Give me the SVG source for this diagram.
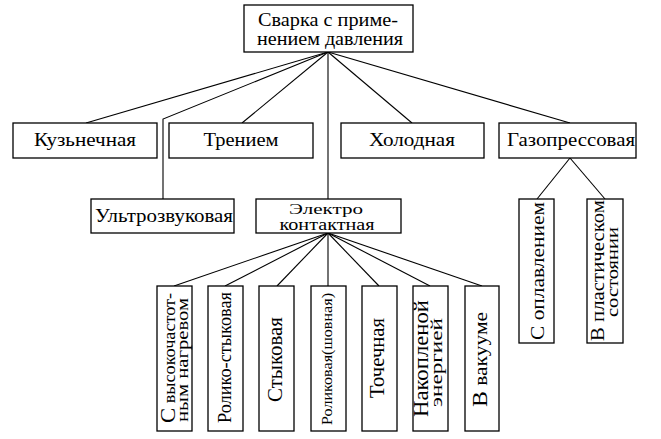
<svg xmlns="http://www.w3.org/2000/svg" width="661" height="439" viewBox="0 0 661 439" font-family="'Liberation Serif', 'DejaVu Serif', 'Times New Roman', serif">
<style>
rect{fill:#fff;stroke:#000;stroke-width:1.3}
#connectors line,#connectors polyline{stroke:#000;stroke-width:1.1;fill:none}
text{fill:#000}
.h{text-anchor:middle}
</style>
<rect x="0" y="0" width="661" height="439" style="fill:#fff;stroke:none"/>
<g id="connectors">
<line x1="328" y1="52" x2="86" y2="123"/>
<polyline points="328,52 163,119 163,199"/>
<line x1="328" y1="52" x2="242" y2="123"/>
<line x1="328" y1="52" x2="328" y2="199"/>
<line x1="328" y1="52" x2="412" y2="123"/>
<line x1="328" y1="52" x2="570" y2="123"/>
<line x1="570" y1="158" x2="537" y2="199"/>
<line x1="570" y1="158" x2="605" y2="199"/>
<line x1="328" y1="233" x2="174" y2="286"/>
<line x1="328" y1="233" x2="225" y2="286"/>
<line x1="328" y1="233" x2="277" y2="286"/>
<line x1="328" y1="233" x2="328" y2="286"/>
<line x1="328" y1="233" x2="379" y2="286"/>
<line x1="328" y1="233" x2="430" y2="286"/>
<line x1="328" y1="233" x2="482" y2="286"/>
</g>
<g id="root">
<rect x="244" y="5" width="169" height="47"/>
<text class="h" x="328" y="26" font-size="19" textLength="140" lengthAdjust="spacingAndGlyphs">Сварка с приме-</text>
<text class="h" x="330" y="45" font-size="19" textLength="146" lengthAdjust="spacingAndGlyphs">нением давления</text>
</g>
<g id="n-kuz">
<rect x="13" y="123" width="144" height="35"/>
<text class="h" x="85" y="146" font-size="19" textLength="102" lengthAdjust="spacingAndGlyphs">Кузьнечная</text>
</g>
<g id="n-tren">
<rect x="169" y="123" width="144" height="35"/>
<text class="h" x="241" y="146" font-size="19" textLength="75" lengthAdjust="spacingAndGlyphs">Трением</text>
</g>
<g id="n-hol">
<rect x="341" y="123" width="143" height="35"/>
<text class="h" x="412" y="146" font-size="19" textLength="86" lengthAdjust="spacingAndGlyphs">Холодная</text>
</g>
<g id="n-gaz">
<rect x="499" y="123" width="137" height="35"/>
<text class="h" x="571" y="146" font-size="19" textLength="128" lengthAdjust="spacingAndGlyphs">Газопрессовая</text>
</g>
<g id="n-ultra">
<rect x="91" y="199" width="143" height="34"/>
<text class="h" x="164" y="222" font-size="19" textLength="138" lengthAdjust="spacingAndGlyphs">Ультрозвуковая</text>
</g>
<g id="n-electro">
<rect x="256" y="199" width="145" height="34"/>
<text class="h" x="326" y="214" font-size="15" textLength="74" lengthAdjust="spacingAndGlyphs">Электро</text>
<text class="h" x="327" y="230" font-size="16" textLength="95" lengthAdjust="spacingAndGlyphs">контактная</text>
</g>
<g id="n-hf">
<rect x="157" y="286" width="35" height="145"/>
<text transform="translate(175,423) rotate(-90)" font-size="16" textLength="130" lengthAdjust="spacingAndGlyphs"><tspan font-size="20">С</tspan> высокочастот-</text>
<text transform="translate(188,422) rotate(-90)" font-size="16" textLength="124" lengthAdjust="spacingAndGlyphs">ным нагревом</text>
</g>
<g id="n-rs">
<rect x="208" y="286" width="35" height="145"/>
<text transform="translate(231,423) rotate(-90)" font-size="18" textLength="131" lengthAdjust="spacingAndGlyphs">Ролико-стыковая</text>
</g>
<g id="n-st">
<rect x="259" y="286" width="35" height="145"/>
<text transform="translate(282,402) rotate(-90)" font-size="20" textLength="85" lengthAdjust="spacingAndGlyphs">Стыковая</text>
</g>
<g id="n-rsh">
<rect x="311" y="286" width="35" height="145"/>
<text transform="translate(332,425) rotate(-90)" font-size="14" textLength="132" lengthAdjust="spacingAndGlyphs">Роликовая(шовная)</text>
</g>
<g id="n-toch">
<rect x="362" y="286" width="35" height="145"/>
<text transform="translate(384,398) rotate(-90)" font-size="20" textLength="80" lengthAdjust="spacingAndGlyphs">Точечная</text>
</g>
<g id="n-nak">
<rect x="413" y="286" width="35" height="145"/>
<text transform="translate(428,417) rotate(-90)" font-size="20" textLength="117" lengthAdjust="spacingAndGlyphs">Накопленой</text>
<text transform="translate(442,407) rotate(-90)" font-size="17" textLength="89" lengthAdjust="spacingAndGlyphs">энергией</text>
</g>
<g id="n-vak">
<rect x="465" y="286" width="34" height="145"/>
<text transform="translate(487,407) rotate(-90)" font-size="19" textLength="95" lengthAdjust="spacingAndGlyphs"><tspan font-size="21">В</tspan>  вакууме</text>
</g>
<g id="n-opl">
<rect x="519" y="199" width="35" height="144"/>
<text transform="translate(544,340) rotate(-90)" font-size="19" textLength="138" lengthAdjust="spacingAndGlyphs">С  оплавлением</text>
</g>
<g id="n-plast">
<rect x="587" y="199" width="36" height="144"/>
<text transform="translate(604,341) rotate(-90)" font-size="19" textLength="141" lengthAdjust="spacingAndGlyphs">В пластическом</text>
<text transform="translate(618,317) rotate(-90)" font-size="17" textLength="90" lengthAdjust="spacingAndGlyphs">состоянии</text>
</g>
</svg>
